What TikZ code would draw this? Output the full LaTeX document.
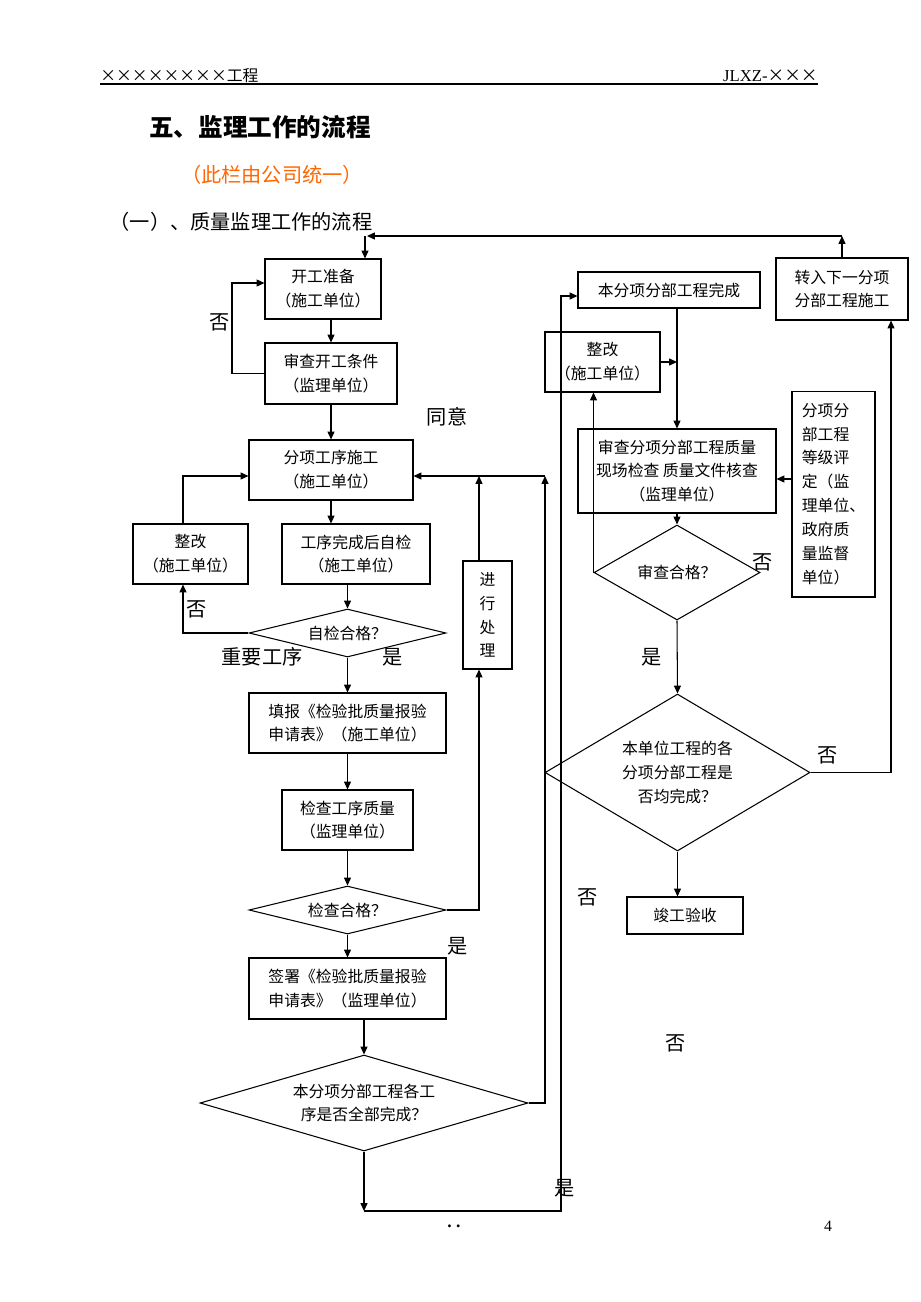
\documentclass[tikz,border=0pt]{standalone}
\usepackage{fontspec}
\setmainfont{Liberation Serif}
\newfontfamily\cjk{Noto Sans CJK SC}
\usepackage{tikz}
\usetikzlibrary{shapes.geometric}
\usetikzlibrary{arrows.meta}
\definecolor{noteorange}{RGB}{255,102,0}
\tikzset{box/.style={draw, line width=0.6pt, align=center, inner sep=1pt, font=\cjk\fontsize{9}{13.6}\selectfont}}
\tikzset{decision/.style={draw, line width=0.6pt, shape=diamond, align=center, inner sep=0pt, font=\cjk\fontsize{9}{13.6}\selectfont}}
\tikzset{lbl/.style={inner sep=0pt, font=\cjk\fontsize{11.5}{14}\selectfont}}
\tikzset{flow/.style={line width=0.6pt, ->}}

\begin{document}
\begin{tikzpicture}[x=0.02cm, y=-0.02cm, >={Triangle[length=4.5pt,width=4pt]}]
	\fill[white] (0,0) rectangle (920,1302);
	\useasboundingbox (0,0) rectangle (920,1302);

	% header and titles
	\node[anchor=base west, inner sep=0pt, font=\cjk\fontsize{9}{11}\selectfont] (hdl) at (100,81) {××××××××工程};
	\node[anchor=base east, inner sep=0pt, font=\fontsize{9.5}{11}\selectfont] (hdr) at (818,81) {JLXZ-{\cjk ×××}};
	\draw[line width=0.6pt] (100,84) -- (818,84);
	\node[font=\cjk\bfseries\fontsize{14}{16}\selectfont] (title) at (260,127) {五、监理工作的流程};
	\node[font=\cjk\fontsize{11.5}{14}\selectfont, text=noteorange] (note) at (272,175) {（此栏由公司统一）};
	\node[font=\cjk\fontsize{11.5}{14}\selectfont] (sub) at (241,222) {（一）、质量监理工作的流程};

	% LEFT column
	\node[box, minimum width=2.32cm, minimum height=1.2cm] (kgzb) at (323,289) {开工准备\\（施工单位）};
	\node[box, minimum width=2.64cm, minimum height=1.22cm] (sckg) at (331,373.5) {审查开工条件\\（监理单位）};
	\node[box, minimum width=3.28cm, minimum height=1.2cm] (fxsg) at (331,470) {分项工序施工\\（施工单位）};
	\node[box, minimum width=2.3cm, minimum height=1.2cm] (zg1) at (190.5,554) {整改\\（施工单位）};
	\node[box, minimum width=2.96cm, minimum height=1.2cm] (zj) at (356,554) {工序完成后自检\\（施工单位）};
	\node[decision, minimum width=3.94cm, minimum height=0.96cm, shape aspect=4.1] (zjhg) at (347.5,633) {自检合格？};
	\node[box, minimum width=3.94cm, minimum height=1.2cm] (tb) at (347.5,723) {填报《检验批质量报验\\申请表》（施工单位）};
	\node[box, minimum width=0.98cm, minimum height=2.16cm] (jxcl) at (487.5,615) {进\\行\\处\\理};
	\node[box, minimum width=2.62cm, minimum height=1.2cm] (jc) at (347.5,820) {检查工序质量\\（监理单位）};
	\node[decision, minimum width=3.94cm, minimum height=0.96cm, shape aspect=4.1] (jchg) at (347.5,910) {检查合格？};
	\node[box, minimum width=3.94cm, minimum height=1.22cm] (qs) at (347.5,988.5) {签署《检验批质量报验\\申请表》（监理单位）};
	\node[decision, minimum width=6.56cm, minimum height=1.92cm, shape aspect=3.42] (qbwc) at (364,1103) {本分项分部工程各工\\序是否全部完成？};

	% RIGHT column
	\node[box, minimum width=3.64cm, minimum height=0.72cm] (bfxwc) at (669,290) {本分项分部工程完成};
	\node[box, minimum width=2.64cm, minimum height=1.24cm] (zr) at (842,289) {转入下一分项\\分部工程施工};
	\node[box, minimum width=2.3cm, minimum height=1.2cm] (zg2) at (602.5,362) {整改\\（施工单位）};
	\node[box, minimum width=3.96cm, minimum height=1.68cm] (scfx) at (677,471) {审查分项分部工程质量\\现场检查\ 质量文件核查\\（监理单位）};
	\node[decision, minimum width=3.32cm, minimum height=1.9cm, shape aspect=1.75] (schg) at (677,572.5) {审查合格？};
	\node[box, align=left, minimum width=1.66cm, minimum height=4.12cm] (djpd) at (833.5,494) {分项分\\部工程\\等级评\\定（监\\理单位、\\政府质\\量监督\\单位）};
	\node[decision, minimum width=5.3cm, minimum height=3.14cm, shape aspect=1.69] (dwwc) at (677.5,772.5) {本单位工程的各\\分项分部工程是\\否均完成？};
	\node[box, minimum width=2.32cm, minimum height=0.74cm] (jgys) at (685,915.5) {竣工验收};

	% loose ends
	\coordinate (topr) at (842,236);
	\coordinate (topl) at (367,236);
	\coordinate (topd) at (365,236);
	\coordinate (loop1) at (232,283);
	\coordinate (zgx) at (183,0);
	\coordinate (clx) at (479,0);
	\coordinate (rv) at (545,476);
	\coordinate (bl) at (364,1211);
	\coordinate (br) at (561,1211);
	\coordinate (bt) at (561,296);
	\coordinate (djy) at (0,479);
	\coordinate (rr) at (891,766);

	% Left connectors
	\draw[flow] (zr.north) -- (topr);
	\draw[flow] (topr) -- (topl);
	\draw[flow] (topd) -- (topd |- kgzb.north);
	\draw[flow] (sckg.north |- kgzb.south) -- (sckg.north);
	\draw[flow] (sckg.west) -| (loop1) -- (loop1 -| kgzb.west);
	\draw[flow] (sckg.south) -- (sckg.south |- fxsg.north);
	\draw[flow] (fxsg.south) -- (fxsg.south |- zj.north);
	\draw[flow] (zjhg.north |- zj.south) -- (zjhg.north);
	\draw[flow] (zjhg.west) -| (zgx |- zg1.south);
	\draw[flow] (zgx |- zg1.north) |- (rv -| fxsg.west);
	\draw[flow] (zjhg.south) -- (tb.north);
	\draw[flow] (tb.south) -- (jc.north);
	\draw[flow] (jc.south) -- (jchg.north);
	\draw[flow] (jchg.south) -- (qs.north);
	\draw[flow] (jchg.east) -| (clx |- jxcl.south);
	\draw[flow] (clx |- jxcl.north) -- (clx |- rv);
	\draw[flow] (qbwc.north |- qs.south) -- (qbwc.north);
	\draw[flow] (qbwc.east) -| (rv);
	\draw[flow] (rv) -- (rv -| fxsg.east);
	\draw[flow] (qbwc.south) -- (bl);
	\draw[flow] (bl) -- (br) -- (bt) -- (bt -| bfxwc.west);

	% Right connectors
	\draw[flow] (scfx.north |- bfxwc.south) -- (scfx.north);
	\draw[flow] (zg2.east) -- (zg2.east -| scfx.north);
	\draw[flow] (scfx.south) -- (schg.north);
	\draw[flow] (schg.west) -- (schg.west |- zg2.south);
	\draw[flow] (djpd.west |- djy) -- (scfx.east |- djy);
	\draw[flow] (schg.south) -- (dwwc.north);
	\draw[flow] (dwwc.east) -- (dwwc.east -| rr) -- (rr |- zr.south);
	\draw[flow] (dwwc.south) -- (dwwc.south |- jgys.north);

	% labels
	\node[lbl] (l1) at (220,322) {否};
	\node[lbl] (l2) at (447,417) {同意};
	\node[lbl] (l3) at (197,609) {否};
	\node[lbl] (l4) at (262,657) {重要工序};
	\node[lbl] (l5) at (393,657) {是};
	\node[lbl] (l6) at (458,946) {是};
	\node[lbl] (l7) at (565,1188) {是};
	\node[lbl] (l8) at (763,562) {否};
	\node[lbl] (l9) at (652,657) {是};
	\node[lbl] (l10) at (828,755) {否};
	\node[lbl] (l11) at (588,897) {否};
	\node[lbl] (l12) at (676,1043) {否};

	% footer
	\node[font=\fontsize{9}{11}\selectfont] (pnum) at (828,1226) {4};
	\node[font=\bfseries\fontsize{10}{12}\selectfont] (dots) at (454,1226) {.\ .};
\end{tikzpicture}
\end{document}
